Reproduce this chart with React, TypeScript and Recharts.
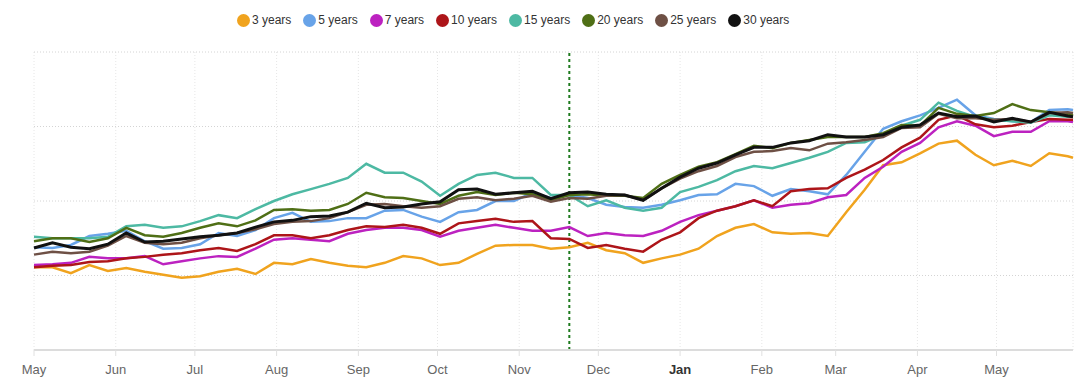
import { LineChart, Line, XAxis, YAxis, CartesianGrid, ReferenceLine } from 'recharts';

// days since 1 May, sampled weekly
const days = [
    0, 7, 14, 21, 28, 35, 42, 49, 56, 63, 70, 77, 84, 91, 98, 105, 112, 119, 126, 133,
    140, 147, 154, 161, 168, 175, 182, 189, 196, 203, 210, 217, 224, 231, 238, 245, 252, 259, 266, 273,
    280, 287, 294, 301, 308, 315, 322, 329, 336, 343, 350, 357, 364, 371, 378, 385, 392, 394,
];

const y3 = [
    1.11, 1.11, 1.03, 1.14, 1.06, 1.10, 1.05, 1.01, 0.97, 0.99, 1.05, 1.09, 1.02, 1.17, 1.15, 1.22, 1.17, 1.13, 1.11, 1.17,
    1.26, 1.23, 1.14, 1.17, 1.29, 1.40, 1.41, 1.41, 1.36, 1.38, 1.44, 1.34, 1.30, 1.17, 1.23, 1.28, 1.36, 1.53, 1.64, 1.69,
    1.58, 1.56, 1.57, 1.53, 1.85, 2.15, 2.48, 2.52, 2.64, 2.77, 2.81, 2.62, 2.48, 2.54, 2.47, 2.64, 2.60, 2.58,
];
const y5 = [
    1.38, 1.37, 1.41, 1.53, 1.56, 1.60, 1.46, 1.36, 1.37, 1.42, 1.57, 1.53, 1.61, 1.77, 1.84, 1.72, 1.73, 1.77, 1.77, 1.87,
    1.88, 1.79, 1.72, 1.85, 1.88, 2.00, 2.00, 2.11, 2.04, 2.08, 2.04, 1.95, 1.92, 1.91, 1.95, 2.01, 2.08, 2.09, 2.23, 2.20,
    2.07, 2.16, 2.13, 2.09, 2.35, 2.66, 2.97, 3.07, 3.15, 3.25, 3.36, 3.15, 3.10, 3.07, 3.06, 3.22, 3.23, 3.22,
];
const y7 = [
    1.14, 1.15, 1.17, 1.25, 1.23, 1.23, 1.26, 1.15, 1.19, 1.23, 1.26, 1.25, 1.36, 1.48, 1.50, 1.48, 1.46, 1.56, 1.61, 1.64,
    1.64, 1.61, 1.52, 1.60, 1.64, 1.68, 1.64, 1.60, 1.60, 1.65, 1.53, 1.57, 1.54, 1.53, 1.60, 1.72, 1.81, 1.87, 1.93, 2.01,
    1.91, 1.95, 1.97, 2.05, 2.08, 2.31, 2.46, 2.66, 2.78, 2.99, 3.07, 3.01, 2.87, 2.93, 2.93, 3.07, 3.07, 3.06,
];
const y10 = [
    1.11, 1.13, 1.14, 1.18, 1.19, 1.23, 1.25, 1.28, 1.30, 1.34, 1.37, 1.33, 1.42, 1.54, 1.54, 1.50, 1.54, 1.61, 1.66, 1.65,
    1.68, 1.64, 1.56, 1.70, 1.73, 1.76, 1.72, 1.73, 1.50, 1.49, 1.37, 1.41, 1.36, 1.32, 1.48, 1.58, 1.77, 1.87, 1.93, 2.01,
    1.93, 2.13, 2.16, 2.17, 2.31, 2.42, 2.55, 2.72, 2.85, 3.09, 3.15, 3.03, 2.99, 3.01, 3.06, 3.10, 3.09, 3.09,
];
const y15 = [
    1.52, 1.50, 1.50, 1.50, 1.52, 1.66, 1.68, 1.64, 1.66, 1.73, 1.81, 1.77, 1.89, 2.00, 2.09, 2.16, 2.23, 2.31, 2.50, 2.38,
    2.38, 2.26, 2.07, 2.23, 2.35, 2.38, 2.31, 2.31, 2.08, 2.08, 1.93, 2.01, 1.91, 1.87, 1.91, 2.12, 2.19, 2.28, 2.40, 2.47,
    2.44, 2.51, 2.58, 2.66, 2.78, 2.79, 2.89, 3.01, 3.09, 3.32, 3.21, 3.13, 3.09, 3.07, 3.05, 3.15, 3.13, 3.13,
];
const y20 = [
    1.46, 1.50, 1.50, 1.45, 1.50, 1.64, 1.54, 1.52, 1.57, 1.64, 1.70, 1.66, 1.74, 1.88, 1.89, 1.87, 1.88, 1.96, 2.11, 2.05,
    2.04, 2.00, 1.96, 2.07, 2.12, 2.08, 2.11, 2.09, 2.01, 2.08, 2.09, 2.07, 2.07, 2.04, 2.23, 2.35, 2.46, 2.52, 2.63, 2.74,
    2.71, 2.78, 2.82, 2.86, 2.86, 2.86, 2.91, 3.02, 3.01, 3.25, 3.17, 3.14, 3.18, 3.30, 3.22, 3.19, 3.17, 3.15,
];
const y25 = [
    1.28, 1.32, 1.30, 1.32, 1.40, 1.53, 1.44, 1.42, 1.44, 1.50, 1.54, 1.57, 1.62, 1.69, 1.72, 1.73, 1.77, 1.85, 1.95, 1.96,
    1.93, 1.91, 1.93, 2.03, 2.05, 2.01, 2.03, 2.07, 1.99, 2.04, 2.03, 2.07, 2.08, 2.01, 2.17, 2.30, 2.40, 2.47, 2.59, 2.66,
    2.67, 2.71, 2.68, 2.77, 2.79, 2.82, 2.86, 2.98, 2.99, 3.17, 3.11, 3.11, 3.09, 3.10, 3.06, 3.18, 3.19, 3.18,
];
const y30 = [
    1.37, 1.44, 1.38, 1.36, 1.42, 1.57, 1.45, 1.46, 1.49, 1.52, 1.54, 1.57, 1.65, 1.72, 1.74, 1.79, 1.80, 1.85, 1.97, 1.91,
    1.92, 1.96, 1.99, 2.15, 2.16, 2.09, 2.11, 2.13, 2.03, 2.11, 2.12, 2.09, 2.08, 2.01, 2.17, 2.32, 2.44, 2.51, 2.62, 2.72,
    2.72, 2.78, 2.81, 2.89, 2.86, 2.86, 2.89, 2.99, 3.02, 3.18, 3.13, 3.14, 3.06, 3.11, 3.06, 3.19, 3.14, 3.13,
];

const monthTicks = [0, 31, 61, 92, 123, 153, 184, 214, 245, 276, 304, 335, 365];
const monthLabels = ['May', 'Jun', 'Jul', 'Aug', 'Sep', 'Oct', 'Nov', 'Dec', 'Jan', 'Feb', 'Mar', 'Apr', 'May'];
const markerDay = 203;

const SERIES = [
    { key: 'y3', name: '3 years', color: '#F0A31E', values: y3 },
    { key: 'y5', name: '5 years', color: '#68A3E8', values: y5 },
    { key: 'y7', name: '7 years', color: '#BC22C0', values: y7 },
    { key: 'y10', name: '10 years', color: '#AD1519', values: y10 },
    { key: 'y15', name: '15 years', color: '#4DB9A3', values: y15 },
    { key: 'y20', name: '20 years', color: '#4F6F16', values: y20 },
    { key: 'y25', name: '25 years', color: '#6E5045', values: y25 },
    { key: 'y30', name: '30 years', color: '#111111', values: y30 },
];

const data = days.map((d, i) => {
    const row: any = { day: d };
    SERIES.forEach((s) => {
        row[s.key] = s.values[i];
    });
    return row;
});

const FONT = '"Liberation Sans", Arial, sans-serif';

function MonthTick(props: any) {
    const { x, y, payload } = props;
    const idx = monthTicks.indexOf(payload.value);
    const label = monthLabels[idx] ?? '';
    const bold = label === 'Jan';
    return (
        <text
            x={x}
            y={y + 16}
            textAnchor="middle"
            fontFamily={FONT}
            fontSize={13}
            fontWeight={bold ? 700 : 400}
            fill={bold ? '#333' : '#666'}
        >
            {label}
        </text>
    );
}

export default function App() {
    return (
        <div style={{ position: 'absolute', left: 0, top: 0, width: 1089, height: 386, background: '#fff' }}>
            <div
                style={{
                    position: 'absolute',
                    top: 13,
                    left: 237,
                    display: 'flex',
                    fontFamily: FONT,
                    fontSize: 12,
                    color: '#333',
                    whiteSpace: 'nowrap',
                }}
            >
                {SERIES.map((s) => (
                    <div key={s.key} style={{ display: 'flex', alignItems: 'center', marginRight: 12 }}>
                        <span
                            style={{
                                width: 13,
                                height: 13,
                                borderRadius: '50%',
                                background: s.color,
                                display: 'inline-block',
                                marginRight: 2,
                            }}
                        />
                        <span>{s.name}</span>
                    </div>
                ))}
            </div>
            <LineChart width={1089} height={386} data={data} margin={{ top: 52, right: 16, left: 34, bottom: 6 }}>
                <CartesianGrid horizontal={false} stroke="#e6e6e6" strokeDasharray="1 2" />
                <CartesianGrid vertical={false} stroke="#d4d4d4" strokeDasharray="1 2" />
                <XAxis
                    dataKey="day"
                    type="number"
                    domain={[0, 394]}
                    ticks={monthTicks}
                    interval={0}
                    height={30}
                    stroke="#dcdcdc"
                    strokeWidth={2}
                    tickLine={{ stroke: '#e0e0e0', strokeWidth: 1 }}
                    tickSize={6}
                    tick={<MonthTick />}
                />
                <YAxis hide domain={[0, 4]} ticks={[0, 1, 2, 3, 4]} />
                <ReferenceLine x={markerDay} stroke="#1E7A1E" strokeWidth={2} strokeDasharray="3 3" />
                {SERIES.map((s) => (
                    <Line
                        key={s.key}
                        type="linear"
                        dataKey={s.key}
                        name={s.name}
                        stroke={s.color}
                        strokeWidth={s.key === 'y30' ? 3 : 2.5}
                        dot={false}
                        activeDot={false}
                        isAnimationActive={false}
                    />
                ))}
            </LineChart>
        </div>
    );
}
